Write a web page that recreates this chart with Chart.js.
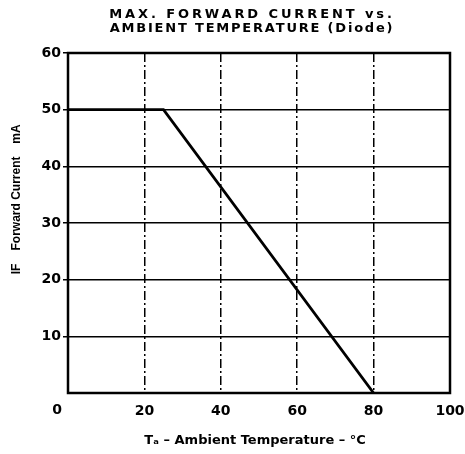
<!DOCTYPE html>
<html><head><meta charset="utf-8">
<script src="https://cdn.jsdelivr.net/npm/chart.js@4"></script>
<style>html,body{margin:0;padding:0;background:#fff}#wrap{width:465px;height:454px}</style>
</head><body><div id="wrap"><canvas id="c" width="465" height="454"></canvas></div>
<script>
const temperatures = [0, 25, 80];
const forwardCurrent = [50, 50, 0];
const xTickValues = [0, 20, 40, 60, 80, 100];
const yTickValues = [10, 20, 30, 40, 50, 60];
const titleLines = ['MAX. FORWARD CURRENT vs.', 'AMBIENT TEMPERATURE (Diode)'];
const xAxisTitle = 'Tₐ – Ambient Temperature – °C';
const yAxisTitleParts = ['IF', 'Forward Current', 'mA'];

const FONT = '"DejaVu Sans", "Liberation Sans", Arial, sans-serif';
const FONT2 = '"Liberation Sans", Arial, sans-serif';

const deco = {
  id: 'deco',
  afterDraw(chart) {
    const {ctx, chartArea: a, scales} = chart;
    ctx.save();
    ctx.strokeStyle = '#000';
    ctx.lineWidth = 2.5;
    ctx.strokeRect(a.left, a.top, a.right - a.left, a.bottom - a.top);
    ctx.fillStyle = '#000';
    // title
    ctx.font = 'bold 13px ' + FONT;
    ctx.textAlign = 'center';
    ctx.textBaseline = 'middle';
    const cx = 252;
    try { ctx.letterSpacing = '2.9px'; } catch(e) {}
    ctx.fillText(titleLines[0], cx, 15);
    try { ctx.letterSpacing = '1.8px'; } catch(e) {}
    ctx.fillText(titleLines[1], cx, 29);
    try { ctx.letterSpacing = '0px'; } catch(e) {}
    // origin label
    ctx.font = 'bold 14px ' + FONT;
    ctx.fillText('0', scales.x.getPixelForValue(0) - 11, 410);
    // x title
    ctx.font = 'bold 13px ' + FONT;
    ctx.fillText(xAxisTitle, 255, 441);
    // y title
    ctx.save();
    ctx.translate(17, 0);
    ctx.rotate(-Math.PI / 2);
    ctx.font = 'bold 12px ' + FONT2;
    ctx.fillText(yAxisTitleParts[0], -269, 0);
    ctx.fillText(yAxisTitleParts[1], -203.5, 0);
    ctx.fillText(yAxisTitleParts[2], -134, 0);
    ctx.restore();
    ctx.restore();
  }
};

new Chart(document.getElementById('c'), {
  type: 'scatter',
  data: {
    datasets: [{
      data: temperatures.map((t, i) => ({x: t, y: forwardCurrent[i]})),
      showLine: true,
      borderColor: '#000',
      borderWidth: 2.8,
      pointRadius: 0,
      tension: 0
    }]
  },
  options: {
    responsive: false,
    animation: false,
    layout: {padding: {top: 53, right: 15, bottom: 0, left: 0}},
    plugins: {legend: {display: false}, tooltip: {enabled: false}, title: {display: false}},
    scales: {
      x: {
        type: 'linear', min: 0, max: 100,
        afterBuildTicks: s => { s.ticks = xTickValues.map(v => ({value: v})); },
        afterFit: s => { s.height = 61; s.paddingRight = 0; s.paddingLeft = 0; },
        grid: {color: '#000', lineWidth: 1.5, drawTicks: false},
        border: {display: false, dash: [9, 3, 2, 3]},
        ticks: {color: '#000', font: {family: FONT, size: 14, weight: 'bold'}, padding: 10,
          callback: v => v === 0 ? '' : String(v), maxRotation: 0}
      },
      y: {
        type: 'linear', min: 0, max: 60,
        afterBuildTicks: s => { s.ticks = yTickValues.map(v => ({value: v})); },
        afterFit: s => { s.width = 68; s.paddingTop = 0; s.paddingBottom = 0; },
        grid: {color: '#000', lineWidth: 1.5, drawTicks: true, tickLength: 5},
        border: {display: false},
        ticks: {color: '#000', font: {family: FONT, size: 14, weight: 'bold'}, padding: 2}
      }
    }
  },
  plugins: [deco]
});
</script>
</body></html>
